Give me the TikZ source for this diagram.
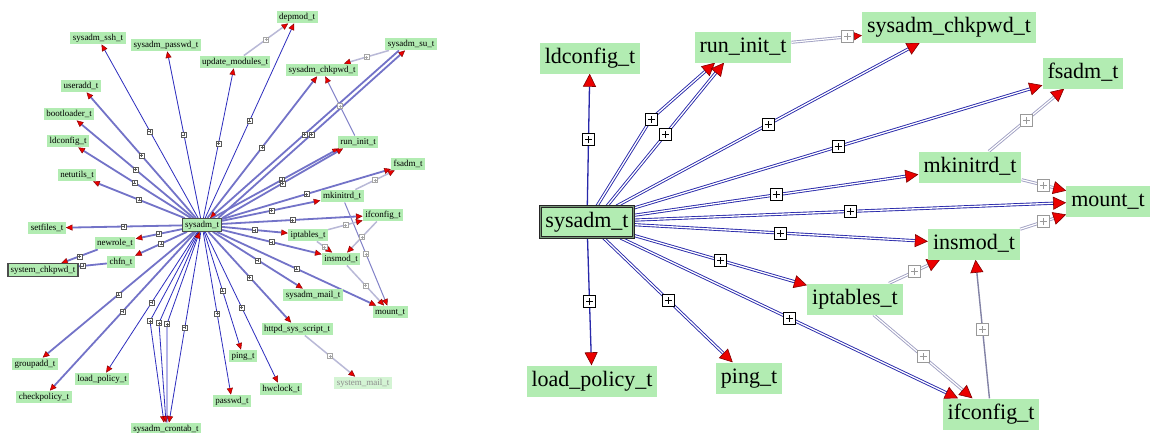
\documentclass[tikz,border=0pt]{standalone}
\usepackage{fontspec}
\setmainfont{Liberation Serif}
\usetikzlibrary{arrows.meta,backgrounds,calc}
\definecolor{ngreen}{RGB}{178,236,178}
\definecolor{fgreen}{RGB}{212,244,212}
\definecolor{thinblue}{RGB}{45,45,190}
\definecolor{thickblue}{RGB}{115,115,200}
\definecolor{greyblue}{RGB}{185,185,215}
\definecolor{lblue}{RGB}{130,130,200}
\definecolor{dblue}{RGB}{40,40,170}
\definecolor{gdbl}{RGB}{160,160,195}
\definecolor{gsgl}{RGB}{130,130,165}
\definecolor{tipred}{RGB}{235,0,0}
\begin{document}
\begin{tikzpicture}[x=1pt,y=-1pt,
  nL/.style={fill=ngreen, font=\fontsize{9}{10}\selectfont, inner xsep=2.5pt, inner ysep=2pt, text height=6.5pt, text depth=2pt},
  hiL/.style={nL, draw=black!70, line width=1.2pt},
  fadeL/.style={nL, fill=fgreen, text=black!45},
  nR/.style={fill=ngreen, font=\fontsize{22}{24}\selectfont, inner xsep=5pt, inner ysep=5.5pt, text height=15pt, text depth=5pt},
  hiR/.style={nR, draw=black!85, double={rgb,255:red,120;green,150;blue,120}, double distance=1pt, line width=0.9pt},
  tipL/.style={-{Triangle[length=6.5pt,width=6pt,fill=tipred,color=red!50!black,line width=0.4pt]}},
  tipR/.style={-{Triangle[length=13pt,width=13pt,fill=tipred,color=red!50!black,line width=0.6pt]}},
  tipRs/.style={-{Triangle[length=8pt,width=8pt,fill=tipred,color=red!50!black,line width=0.5pt]}},
  thinE/.style={draw=thinblue, line width=0.8pt},
  thickE/.style={draw=thickblue, line width=1.8pt},
  greyE/.style={draw=greyblue, line width=1.5pt},
  lblueE/.style={draw=lblue, line width=1pt},
  dblR/.style={draw=dblue, double=white, double distance=1.3pt, line width=0.9pt},
  sglR/.style={draw=dblue, line width=1.3pt},
  gdblR/.style={draw=gdbl, double=white, double distance=1.2pt, line width=0.9pt},
  gsglR/.style={draw=gsgl, line width=1.4pt},
  plusL/.style={path picture={\draw[arrows=-,#1,line width=0.4pt] ([xshift=-1.5pt]path picture bounding box.center) -- ([xshift=1.5pt]path picture bounding box.center) ([yshift=-1.5pt]path picture bounding box.center) -- ([yshift=1.5pt]path picture bounding box.center);}},
  plusR/.style={path picture={\draw[arrows=-,#1,line width=1pt] ([xshift=-3.5pt]path picture bounding box.center) -- ([xshift=3.5pt]path picture bounding box.center) ([yshift=-3.5pt]path picture bounding box.center) -- ([yshift=3.5pt]path picture bounding box.center);}},
  pboxL/.style={draw=black!65, fill=white, minimum size=5pt, inner sep=0pt, line width=0.4pt, plusL=black!65},
  pboxLg/.style={draw=black!35, fill=white, minimum size=5pt, inner sep=0pt, line width=0.4pt, plusL=black!35},
  pboxR/.style={draw=black, fill=white, minimum size=12pt, inner sep=0pt, line width=1pt, plusR=black},
  pboxRg/.style={draw=black!40, fill=white, minimum size=12pt, inner sep=0pt, line width=1pt, plusR=black!40}
]
\useasboundingbox (0,0) rectangle (1153,432);

% ---------------- left panel nodes ----------------
\node[hiL] (sysL) at (202,225) {sysadm\_t};
\node[nL] (sshL) at (98,38) {sysadm\_ssh\_t};
\node[nL] (spwL) at (166,45) {sysadm\_passwd\_t};
\node[nL] (updL) at (235,62) {update\_modules\_t};
\node[nL] (depL) at (297,17) {depmod\_t};
\node[nL] (suL) at (411,44) {sysadm\_su\_t};
\node[nL] (chkL) at (322,70) {sysadm\_chkpwd\_t};
\node[nL] (runL) at (358,142) {run\_init\_t};
\node[nL] (fsL) at (408,164) {fsadm\_t};
\node[nL] (mkL) at (342,196) {mkinitrd\_t};
\node[nL] (ifcL) at (383,215) {ifconfig\_t};
\node[nL] (iptL) at (308,235) {iptables\_t};
\node[nL] (insL) at (341,259) {insmod\_t};
\node[nL] (smailL) at (313,295) {sysadm\_mail\_t};
\node[nL] (mntL) at (390,312) {mount\_t};
\node[nL] (httpdL) at (297,329) {httpd\_sys\_script\_t};
\node[fadeL] (symailL) at (363,383) {system\_mail\_t};
\node[nL] (pingL) at (243,356) {ping\_t};
\node[nL] (hwL) at (281,389) {hwclock\_t};
\node[nL] (pwdL) at (232,401) {passwd\_t};
\node[nL] (cronL) at (166,429) {sysadm\_crontab\_t};
\node[nL] (chkpolL) at (44,397) {checkpolicy\_t};
\node[nL] (loadL) at (102,379) {load\_policy\_t};
\node[nL] (grpL) at (35,364) {groupadd\_t};
\node[hiL] (sycL) at (43,270) {system\_chkpwd\_t};
\node[nL] (chfnL) at (121,262) {chfn\_t};
\node[nL] (newrL) at (115,243) {newrole\_t};
\node[nL] (setfL) at (47,228) {setfiles\_t};
\node[nL] (netL) at (77,175) {netutils\_t};
\node[nL] (ldcL) at (68,141) {ldconfig\_t};
\node[nL] (bootL) at (69,114) {bootloader\_t};
\node[nL] (useraddL) at (81,86) {useradd\_t};

% ---------------- right panel nodes ----------------
\node[hiR] (sysR) at (587,222) {sysadm\_t};
\node[nR] (ldcR) at (590,58) {ldconfig\_t};
\node[nR] (runR) at (743,47) {run\_init\_t};
\node[nR] (chkR) at (949,27) {sysadm\_chkpwd\_t};
\node[nR] (fsR) at (1083,73) {fsadm\_t};
\node[nR] (mkR) at (970,167) {mkinitrd\_t};
\node[nR] (mntR) at (1108,201) {mount\_t};
\node[nR] (insR) at (974,244) {insmod\_t};
\node[nR] (iptR) at (855,299) {iptables\_t};
\node[nR] (ifcR) at (991,414) {ifconfig\_t};
\node[nR] (loadR) at (592,381) {load\_policy\_t};
\node[nR] (pingR) at (749,378) {ping\_t};

\coordinate (cb1) at (150,321);
\coordinate (cb2) at (159,323);
\coordinate (cb3) at (167,324);
\coordinate (rb1) at (651,119);

\begin{scope}[on background layer]
\fill[white] (0,0) rectangle (1153,432);
% ---- left: thin edges
\draw[thinE,tipL] (sysL) -- node[pboxL]{} (sshL);
\draw[thinE,tipL] (sysL) -- node[pboxL]{} (spwL);
\draw[thinE,tipL] (sysL) -- node[pboxL]{} (updL);
\draw[thinE,tipL] (sysL) -- node[pboxL]{} (depL);
\draw[thinE,tipL] (sysL) -- node[pboxL]{} (pingL);
\draw[thinE,tipL] (sysL) -- node[pboxL]{} (hwL);
\draw[thinE,tipL] (sysL) -- node[pboxL]{} (pwdL);
\draw[thinE,tipL] (sysL) -- node[pboxL]{} (loadL);
\draw[thinE,tipL] (sysL) -- node[pboxL]{} ([xshift=3pt]cronL.north);
\draw[thinE,tipL] (sysL) -- (cb1) node[pboxL]{} -- ([xshift=-2pt]cronL.north);
\draw[thinE,tipL] (sysL) -- (cb2) node[pboxL]{} -- (cronL.north);
\draw[thinE,tipL] ([xshift=1pt]cronL.north) -- (cb3) node[pboxL]{} -- (sysL);
% ---- left: thick edges
\draw[thickE,tipL] (sysL) -- node[pboxL]{} (useraddL);
\draw[thickE,tipL] (sysL) -- node[pboxL]{} (bootL);
\draw[thickE,tipL] (sysL) -- node[pboxL]{} (ldcL);
\draw[thickE,tipL] (sysL) -- node[pboxL]{} (netL);
\draw[thickE,tipL] (sysL) -- node[pboxL]{} (setfL);
\draw[thickE,tipL] (sysL) -- node[pboxL]{} (newrL);
\draw[thickE,tipL] (sysL) -- node[pboxL]{} (chfnL);
\draw[thickE,tipL] (sysL) -- node[pboxL]{} (grpL);
\draw[thickE,tipL] (sysL) -- node[pboxL]{} (chkpolL);
\draw[thickE,tipL] (sysL) -- node[pboxL]{} (chkL);
\draw[thickE,tipL] ([xshift=-4pt]sysL.north east) -- node[pboxL]{} ([xshift=-6pt]suL.south);
\draw[thickE,tipL] ([xshift=-12pt]suL.south) -- node[pboxL]{} ([xshift=8pt]sysL.north);
\draw[thickE,tipL] ([xshift=-10pt]sysL.north east) -- node[pboxL,pos=0.55]{} ([xshift=-19pt]runL.south);
\draw[thickE,tipL] (sysL.north east) -- node[pboxL]{} ([xshift=-15pt]runL.south);
\draw[thickE,tipL] (sysL) -- node[pboxL]{} (fsL);
\draw[thickE,tipL] (sysL) -- node[pboxL]{} (mkL);
\draw[thickE,tipL] (sysL) -- node[pboxL]{} (ifcL);
\draw[thickE,tipL] (sysL) -- node[pboxL]{} (iptL);
\draw[thickE,tipL] (sysL) -- node[pboxL]{} (insL);
\draw[thickE,tipL] (sysL) -- node[pboxL]{} (mntL);
\draw[thickE,tipL] (sysL) -- node[pboxL]{} (smailL);
\draw[thickE,tipL] (sysL) -- node[pboxL]{} (httpdL);
\draw[thickE,tipL] (newrL) -- node[pboxL]{} (sycL);
\draw[thickE] (chfnL) -- node[pboxL,pos=0.85]{} (sycL);
% ---- left: grey edges
\draw[greyE,tipL] (updL) -- node[pboxLg]{} (depL);
\draw[greyE,tipL] (suL) -- node[pboxLg]{} (chkL);
\draw[lblueE,tipL] (runL) -- node[pboxLg]{} (chkL);
\draw[greyE,tipL] (mkL) -- node[pboxLg]{} (fsL);
\draw[lblueE,tipL] (mkL) -- node[pboxLg]{} (mntL);
\draw[greyE,tipL] (iptL) -- node[pboxLg]{} (ifcL);
\draw[greyE,tipL] (ifcL) -- node[pboxLg]{} (insL);
\draw[greyE,tipL] (iptL) -- node[pboxLg]{} (insL);
\draw[greyE,tipL] (insL) -- node[pboxLg]{} (mntL);
\draw[greyE,tipL] (httpdL) -- node[pboxLg]{} (symailL);

% ---- right edges
\draw[sglR,tipR] (sysR) -- node[pboxR]{} (ldcR);
\draw[sglR,tipR] (sysR) -- node[pboxR]{} (loadR);
\draw[dblR,tipR] (sysR) -- (rb1) node[pboxR]{} -- ([xshift=-28pt]runR.south);
\draw[dblR,tipR] ([xshift=20pt]sysR.north) -- node[pboxR]{} ([xshift=-19pt]runR.south);
\draw[dblR,tipR] (sysR) -- node[pboxR]{} (chkR);
\draw[dblR,tipR] (sysR) -- node[pboxR]{} (fsR);
\draw[dblR,tipR] (sysR) -- node[pboxR]{} (mkR);
\draw[dblR,tipR] (sysR) -- node[pboxR]{} (mntR);
\draw[dblR,tipR] (sysR) -- node[pboxR]{} (insR);
\draw[dblR,tipR] (sysR) -- node[pboxR]{} (iptR);
\draw[dblR,tipR] (sysR) -- node[pboxR]{} (pingR);
\draw[dblR,tipR] (sysR) -- node[pboxR]{} (ifcR);
\draw[gdblR,tipRs] (runR) -- node[pboxRg,pos=0.8]{} (chkR);
\draw[gdblR,tipR] (mkR) -- node[pboxRg]{} (fsR);
\draw[gdblR,tipR] (mkR) -- node[pboxRg]{} (mntR);
\draw[gdblR,tipR] (insR) -- node[pboxRg]{} (mntR);
\draw[gdblR,tipR] (iptR) -- node[pboxRg]{} (insR);
\draw[gdblR,tipR] (iptR) -- node[pboxRg]{} (ifcR);
\draw[gsglR,tipR] (ifcR) -- node[pboxRg]{} (insR);
\end{scope}
\end{tikzpicture}
\end{document}
